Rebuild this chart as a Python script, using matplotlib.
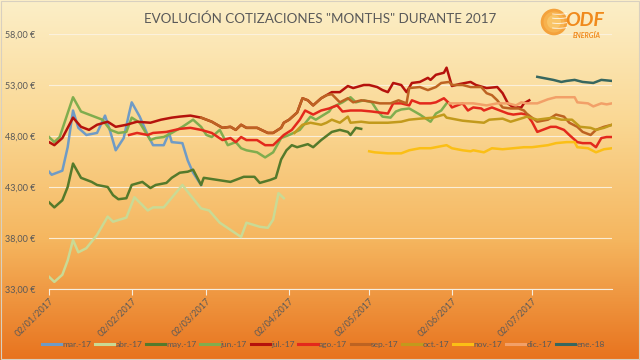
import numpy as np
import pandas as pd
import matplotlib
matplotlib.use("Agg")
import matplotlib.pyplot as plt
import matplotlib.dates as mdates
from matplotlib.ticker import FuncFormatter
from matplotlib.patches import Circle, Rectangle

plt.rcParams['font.family'] = ['Lato', 'DejaVu Sans']

start = pd.Timestamp("2017-01-02")

# days since 02/01/2017 and price (EUR/MWh) for each contract
mar_days = [0, 1, 5, 7, 9, 11, 14, 18, 21, 23, 25, 28, 30, 31, 34, 37, 39, 43, 45, 46, 50, 52, 54, 57]
mar_vals = [44.5, 44.2, 44.6, 46.9, 50.5, 48.8, 48.1, 48.3, 50.0, 48.4, 46.6, 47.8, 50.2, 51.3, 49.9, 48.1,
            47.1, 47.1, 48.3, 47.4, 47.3, 45.6, 44.4, 43.2]

abr_days = [0, 2, 5, 7, 9, 11, 14, 18, 22, 24, 29, 32, 37, 39, 43, 50, 53, 57, 60, 64, 72, 74, 79, 82, 84, 86, 88]
abr_vals = [34.2, 33.7, 34.4, 35.8, 37.8, 36.6, 37.0, 38.3, 40.1, 39.6, 40.0, 42.0, 40.7, 41.0, 41.0, 43.2,
            42.2, 40.9, 40.7, 39.5, 38.1, 39.5, 39.1, 39.0, 39.8, 42.4, 41.9]

may_days = [0, 2, 5, 7, 9, 12, 16, 18, 22, 24, 26, 29, 31, 35, 38, 40, 44, 46, 49, 52, 54, 57, 58, 68, 73, 77,
            79, 83, 85, 87, 89, 91, 93, 97, 99, 102, 106, 109, 112, 113, 115, 117]
may_vals = [41.5, 41.0, 41.7, 43.0, 45.3, 43.9, 43.5, 43.2, 43.0, 42.2, 41.8, 41.9, 43.2, 43.5, 42.9, 43.2,
            43.4, 43.9, 44.4, 44.5, 44.7, 43.2, 43.9, 43.5, 44.0, 44.0, 43.4, 43.7, 43.9, 45.7, 46.6, 47.1,
            46.9, 47.2, 46.9, 47.6, 48.4, 48.6, 48.4, 48.1, 48.8, 48.7]

jun_days = [0, 2, 4, 9, 12, 15, 18, 20, 23, 26, 29, 31, 34, 38, 40, 43, 46, 50, 54, 57, 59, 61, 64, 67, 70,
            72, 74, 78, 81, 84, 87, 90, 94, 98, 100, 105, 106, 110, 113, 115, 118, 121, 123, 125, 128, 130,
            132, 135, 139, 143, 145, 147, 149]
jun_vals = [47.9, 47.4, 47.9, 51.8, 50.4, 50.1, 49.8, 49.6, 48.6, 48.3, 48.4, 49.8, 49.3, 47.6, 47.8, 47.9,
            48.3, 48.9, 49.6, 48.9, 48.1, 47.9, 48.6, 47.1, 47.4, 46.8, 46.6, 46.4, 45.9, 46.4, 47.8, 48.1,
            48.6, 49.9, 49.6, 50.4, 50.8, 51.3, 51.8, 51.3, 51.5, 51.3, 50.5, 49.9, 49.8, 50.4, 50.6, 50.7,
            50.1, 49.4, 50.2, 50.5, 51.2]

jul_days = [0, 2, 5, 9, 12, 15, 18, 22, 25, 29, 33, 38, 42, 46, 49, 53, 57, 61, 65, 68, 70, 72, 74, 78, 82,
            84, 87, 88, 90, 93, 95, 97, 99, 102, 104, 106, 109, 112, 114, 118, 120, 123, 125, 127, 129, 132,
            134, 136, 139, 142, 143, 145, 148, 149, 151, 154, 158, 160, 164, 168, 170, 172, 174, 177, 178, 180]
jul_vals = [47.4, 47.1, 47.8, 49.8, 48.9, 48.6, 49.1, 49.4, 48.9, 49.1, 49.4, 49.3, 49.6, 49.8, 49.9, 50.0,
            49.8, 49.4, 48.8, 48.9, 48.6, 49.1, 48.8, 48.8, 48.3, 48.3, 48.8, 49.3, 49.6, 50.3, 51.7, 51.5,
            51.0, 51.7, 52.0, 52.3, 52.3, 52.9, 52.7, 53.0, 53.0, 52.8, 52.5, 52.3, 53.2, 53.0, 52.3, 53.2,
            53.3, 53.7, 53.5, 54.0, 54.2, 54.7, 52.9, 53.1, 53.3, 53.0, 52.7, 52.8, 52.2, 51.2, 50.8, 50.8,
            51.2, 51.5]

ago_days = [30, 33, 37, 39, 44, 49, 53, 57, 61, 65, 68, 70, 72, 74, 78, 81, 84, 86, 88, 91, 94, 96, 99, 102,
            105, 108, 110, 113, 117, 121, 124, 127, 129, 132, 135, 136, 139, 143, 145, 148, 150, 151, 155,
            157, 159, 162, 163, 166, 169, 172, 174, 177, 179, 181, 183, 185, 188, 190, 193, 195, 198, 200,
            203, 205, 207, 209, 211]
ago_vals = [48.1, 48.3, 48.1, 48.3, 48.4, 48.7, 48.8, 48.6, 48.3, 47.6, 47.8, 47.4, 47.9, 47.6, 47.6, 47.1,
            47.1, 47.6, 48.1, 48.6, 49.6, 50.5, 50.1, 50.5, 50.7, 51.0, 50.4, 50.5, 50.5, 50.4, 50.3, 50.2,
            51.2, 51.2, 51.0, 51.5, 51.2, 51.2, 51.3, 51.7, 51.2, 50.8, 51.2, 50.5, 50.8, 50.7, 50.5, 50.8,
            50.5, 50.2, 50.1, 50.2, 50.1, 49.4, 48.4, 48.6, 48.9, 48.9, 48.6, 48.1, 47.4, 47.3, 47.3, 46.9,
            47.8, 47.9, 47.9]

sep_days = [57, 61, 65, 68, 70, 72, 74, 78, 82, 84, 87, 88, 90, 93, 95, 97, 99, 102, 104, 106, 109, 112, 114,
            117, 120, 124, 128, 131, 134, 135, 139, 142, 145, 147, 150, 151, 155, 158, 162, 164, 166, 168,
            170, 173, 176, 178, 179, 181, 183, 187, 190, 193, 195, 198, 200, 203, 205, 208, 211]
sep_vals = [49.8, 49.4, 48.8, 48.9, 48.6, 49.1, 48.8, 48.8, 48.3, 48.3, 48.8, 49.3, 49.6, 50.3, 51.7, 51.5,
            51.0, 51.7, 52.0, 52.1, 51.3, 51.7, 51.3, 51.5, 51.4, 51.2, 51.2, 51.5, 51.2, 52.7, 52.8, 52.5,
            52.8, 53.2, 53.3, 53.0, 53.0, 52.8, 52.8, 52.2, 52.0, 51.5, 50.8, 50.7, 50.7, 50.5, 50.2, 49.8,
            49.4, 49.6, 50.1, 49.9, 49.3, 48.9, 48.4, 48.1, 48.6, 48.9, 49.1]

oct_days = [92, 95, 98, 102, 104, 106, 109, 112, 113, 117, 120, 127, 132, 135, 139, 144, 148, 149, 155, 159,
            163, 165, 170, 173, 178, 179, 183, 189, 192, 196, 199, 203, 205, 208, 211]
oct_vals = [48.3, 49.1, 49.3, 49.1, 49.3, 49.6, 49.3, 49.9, 49.3, 49.4, 49.3, 49.3, 49.4, 49.6, 49.7, 49.8,
            50.1, 49.8, 49.5, 49.4, 49.3, 49.6, 49.7, 49.4, 49.8, 49.9, 49.6, 49.8, 49.6, 49.6, 48.9, 48.8,
            48.6, 48.8, 49.1]

nov_days = [120, 122, 127, 132, 135, 139, 143, 147, 149, 151, 155, 158, 159, 163, 166, 170, 174, 178, 181,
            187, 190, 194, 197, 198, 202, 205, 208, 211]
nov_vals = [46.5, 46.4, 46.3, 46.3, 46.6, 46.8, 46.8, 47.0, 47.1, 46.8, 46.6, 46.5, 46.6, 46.4, 46.8, 46.7,
            46.8, 46.9, 46.9, 47.1, 47.3, 47.4, 47.4, 46.9, 46.8, 46.4, 46.7, 46.8]

dic_days = [150, 154, 159, 164, 168, 172, 175, 177, 179, 183, 187, 190, 194, 197, 198, 202, 204, 207, 209, 211]
dic_vals = [51.2, 51.2, 51.2, 51.0, 51.2, 51.2, 51.0, 51.3, 51.2, 51.2, 51.6, 51.8, 51.8, 51.8, 51.3, 51.2,
            50.9, 51.2, 51.1, 51.2]

ene_days = [183, 185, 189, 192, 194, 197, 200, 204, 205, 207, 211]
ene_vals = [53.8, 53.7, 53.5, 53.3, 53.4, 53.5, 53.3, 53.2, 53.3, 53.5, 53.4]

tick_dates = ["2017-01-02", "2017-02-02", "2017-03-02", "2017-04-02", "2017-05-02", "2017-06-02", "2017-07-02"]

series = [
    ("mar.-17", mar_days, mar_vals, "#6f9bc6"),
    ("abr.-17", abr_days, abr_vals, "#c9da95"),
    ("may.-17", may_days, may_vals, "#557a2b"),
    ("jun.-17", jun_days, jun_vals, "#80ad4e"),
    ("jul.-17", jul_days, jul_vals, "#b5120c"),
    ("ago.-17", ago_days, ago_vals, "#e3291c"),
    ("sep.-17", sep_days, sep_vals, "#bd6322"),
    ("oct.-17", oct_days, oct_vals, "#c29a1c"),
    ("nov.-17", nov_days, nov_vals, "#fbbf16"),
    ("dic.-17", dic_days, dic_vals, "#f2a068"),
    ("ene.-18", ene_days, ene_vals, "#37675f"),
]

txt = "#595959"

fig = plt.figure(figsize=(6.4, 3.6), dpi=100)

# background gradient
bg = fig.add_axes([0, 0, 1, 1], zorder=-10)
grad = np.linspace(0, 1, 256).reshape(-1, 1)
cmap = matplotlib.colors.LinearSegmentedColormap.from_list(
    "bg", ["#fcefc8", "#fad894", "#f5b65f", "#e8731e"])
bg.imshow(grad, aspect="auto", cmap=cmap, extent=[0, 1, 0, 1], origin="upper")
bg.add_patch(Rectangle((0.001, 0.002), 0.997, 0.995, fill=False, ec="#d8d0c0", lw=0.8))
bg.set_xlim(0, 1)
bg.set_ylim(0, 1)
bg.axis("off")

ax = fig.add_axes([49 / 640, 1 - 289 / 360, (612 - 49) / 640, (289 - 34) / 360])
ax.patch.set_alpha(0)

for name, d, v, c in series:
    dates = start + pd.to_timedelta(d, unit="D")
    ax.plot(dates, v, color=c, lw=1.8, label=name, solid_joinstyle="round")

ax.set_ylim(33, 58)
ax.set_yticks([33, 38, 43, 48, 53, 58])
ax.yaxis.set_major_formatter(FuncFormatter(lambda y, p: f"{y:.2f}".replace(".", ",") + " €"))
ax.set_xlim(start, start + pd.Timedelta(days=211))
ax.set_xticks(pd.to_datetime(tick_dates))
ax.xaxis.set_major_formatter(mdates.DateFormatter("%d/%m/%Y"))

ax.grid(axis="y", color="#fbf3e2", lw=0.8, alpha=0.9)
ax.set_axisbelow(True)
for s in ["top", "right", "left"]:
    ax.spines[s].set_visible(False)
ax.spines["bottom"].set_color("#f6eee0")
ax.spines["bottom"].set_linewidth(0.8)
ax.tick_params(axis="y", length=0, labelsize=6.5, labelcolor=txt, pad=10)
ax.tick_params(axis="x", length=4, color="#f6eee0", labelsize=6.5, labelcolor=txt, pad=1)
for lab in ax.get_xticklabels():
    lab.set_rotation(45)
    lab.set_ha("right")
    lab.set_rotation_mode("anchor")

fig.text(0.5, 0.948, 'EVOLUCIÓN COTIZACIONES "MONTHS" DURANTE 2017', ha="center", va="center",
         fontsize=9.6, color=txt)

leg = fig.legend(loc="center", bbox_to_anchor=(0.505, 0.042), ncol=11, frameon=False, fontsize=6,
                 handlelength=2.3, columnspacing=0.45, handletextpad=0.15, labelcolor=txt)
for h in leg.get_lines():
    h.set_linewidth(2.2)

# logo
lg = fig.add_axes([540 / 640, 1 - 36 / 360, 28 / 640, 28 / 360])
lg.set_xlim(-1, 1)
lg.set_ylim(-1, 1)
lg.set_aspect("equal")
lg.axis("off")
for r, c in [(0.95, "#f4a23c"), (0.75, "#f7b24e"), (0.5, "#f9c466")]:
    lg.add_patch(Circle((0, 0), r, color=c, lw=0))
for yy in [-0.45, -0.1, 0.25, 0.55]:
    xs = np.linspace(-0.1, 0.9, 20)
    lg.plot(xs, yy + 0.15 * (xs - 0.3) ** 2, color="white", lw=0.6, alpha=0.9)

fig.text(565 / 640, 1 - 20 / 360, "ODF", ha="left", va="center", fontsize=14, fontweight="bold",
         fontstyle="italic", color="#f08a1c")
fig.text(601 / 640, 1 - 36 / 360, "ENERGÍA", ha="right", va="center", fontsize=5, fontweight="bold",
         fontstyle="italic", color="#f08a1c")

fig.savefig("out.png", dpi=100)
